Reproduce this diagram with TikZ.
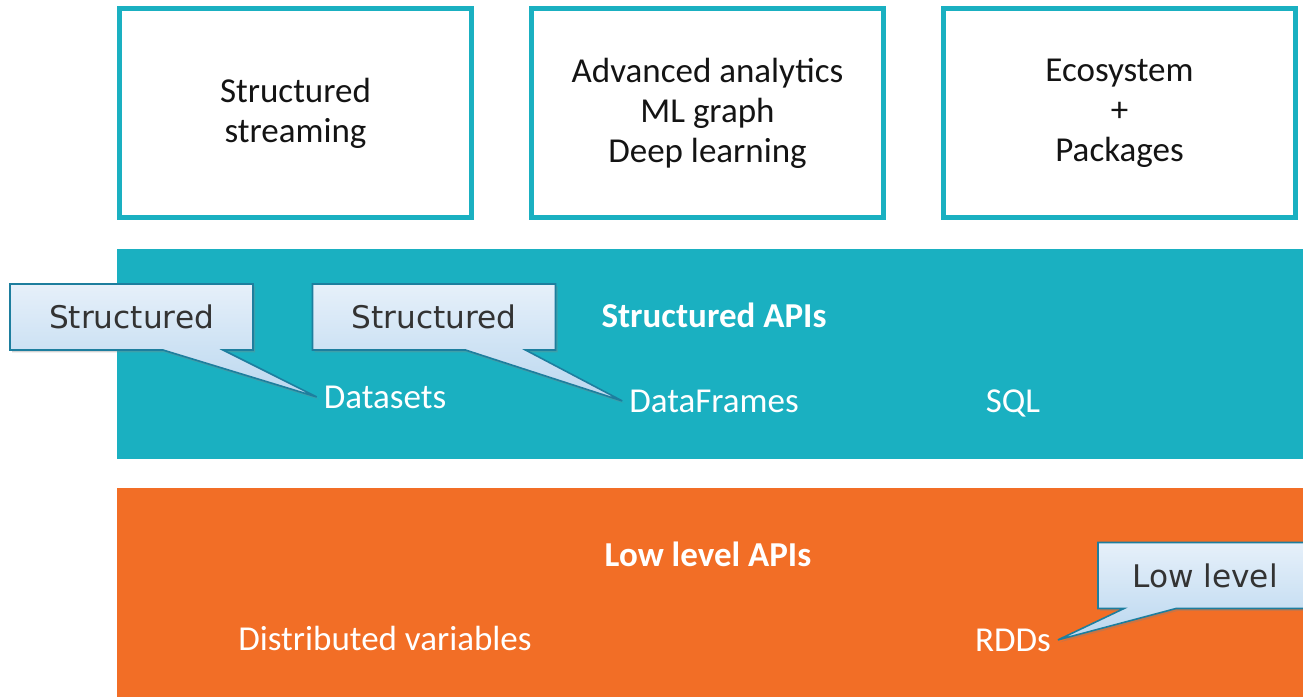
\documentclass[tikz,border=0pt]{standalone}
\usepackage{fontspec}
\setmainfont{Carlito}
\newfontfamily\tagfont{DejaVu Sans}
\usetikzlibrary{shapes.callouts,shadows}
\definecolor{apiteal}{HTML}{1AB0C1}
\definecolor{apiorange}{HTML}{F26E26}
\definecolor{tagtop}{HTML}{E6F0FA}
\definecolor{tagbottom}{HTML}{BAD7EF}
\definecolor{tagline}{HTML}{1D7E9E}
\tikzset{
  layerbox/.style={draw=apiteal, line width=2.5pt, fill=white, minimum width=176pt,
    minimum height=104.5pt, align=center, text=black!92, font=\fontsize{17.5}{20}\selectfont},
  bandtxt/.style={text=white, anchor=base, font=\fontsize{17.5}{20}\selectfont},
  tag/.style={rectangle callout, draw=tagline, line width=0.8pt, top color=tagtop,
    bottom color=tagbottom, minimum height=33pt, text=black!80, callout pointer width=30pt,
    font=\tagfont\fontsize{15.6}{18}\selectfont,
    drop shadow={shadow xshift=1pt, shadow yshift=-1.2pt, opacity=0.35}}
}
\begin{document}
\begin{tikzpicture}[x=0.5pt,y=-0.5pt]
    \useasboundingbox (0,0) rectangle (1303,697);
    % top row
    \node[layerbox] (stream) at (295.5,113) {Structured\\streaming};
    \node[layerbox] (analytics) at (707.5,113) {Advanced analytics\\ML graph\\Deep learning};
    \node[layerbox] (eco) at (1119.5,113) {Ecosystem\\+\\Packages};
    % structured band
    \fill[apiteal] (117,249) rectangle (1303,459);
    \node[bandtxt, font=\fontsize{17.5}{20}\selectfont\bfseries] (sapi) at (714,327) {Structured APIs};
    \node[bandtxt] (ds) at (385,408) {Datasets};
    \node[bandtxt] (df) at (714,412) {DataFrames};
    \node[bandtxt] (sql) at (1013,412) {SQL};
    % low level band
    \fill[apiorange] (117,488) rectangle (1303,697);
    \node[bandtxt, font=\fontsize{17.5}{20}\selectfont\bfseries] (lapi) at (708,566) {Low level APIs};
    \node[bandtxt] (dv) at (385,650) {Distributed variables};
    \node[bandtxt] (rdd) at (1013,651) {RDDs};
    % callouts
    \node[tag, minimum width=121.5pt, callout absolute pointer={(ds.west)}] (dstag) at (131.5,317) {Structured};
    \node[tag, minimum width=121.5pt, callout absolute pointer={(df.west)}] (dftag) at (434,317) {Structured};
    \node[tag, minimum width=107pt, callout pointer width=26pt, callout absolute pointer={(rdd.east)}] (rddtag) at (1205,575.5) {Low level};
\end{tikzpicture}
\end{document}
